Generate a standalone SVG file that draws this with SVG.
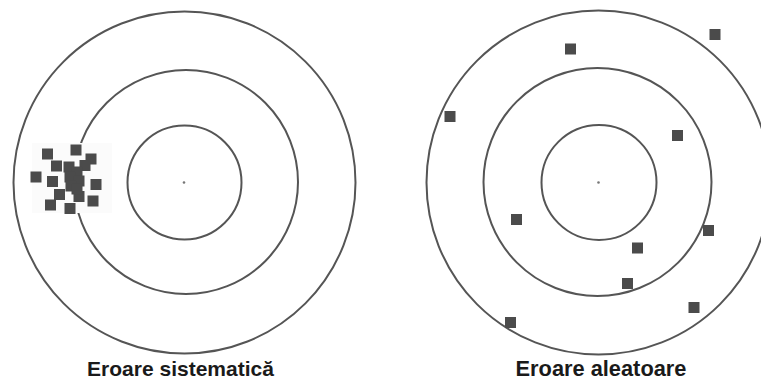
<svg xmlns="http://www.w3.org/2000/svg" width="761" height="380" viewBox="0 0 761 380">
<style>
.ring{fill:none;stroke:#555;stroke-width:2}
.dot{fill:#777}
.sq{fill:#4b4b4b}
.lbl{font-family:"Liberation Sans",Arial,sans-serif;font-weight:bold;font-size:21px;fill:#1a1a1a;text-anchor:middle}
</style>
<defs>
<rect id="s" x="-5.5" y="-5.5" width="11" height="11"/>
</defs>
<rect width="761" height="380" fill="#fff"/>
<g id="target-systematic">
<circle class="ring" cx="184.5" cy="182.5" r="171"/>
<circle class="ring" cx="186" cy="182" r="112"/>
<circle class="ring" cx="184.5" cy="182.5" r="57"/>
<circle class="dot" cx="184" cy="182.5" r="1.3"/>
<rect x="32" y="143" width="80" height="70" fill="#fbfbfb"/>
<g class="sq">
<use href="#s" x="47.5" y="154"/>
<use href="#s" x="76" y="150"/>
<use href="#s" x="91" y="159"/>
<use href="#s" x="56.5" y="166"/>
<use href="#s" x="85" y="165.5"/>
<use href="#s" x="36" y="177"/>
<use href="#s" x="52.5" y="181.5"/>
<use href="#s" x="96" y="184.5"/>
<use href="#s" x="59.5" y="194.5"/>
<use href="#s" x="79" y="196.5"/>
<use href="#s" x="93" y="201"/>
<use href="#s" x="50.5" y="205"/>
<use href="#s" x="70" y="208.5"/>
<use href="#s" x="69" y="167"/>
<use href="#s" x="77" y="172"/>
<use href="#s" x="70" y="177"/>
<use href="#s" x="79" y="181"/>
<use href="#s" x="71" y="186"/>
<use href="#s" x="77" y="189"/>
</g>
<text class="lbl" x="180.5" y="376">Eroare sistematică</text>
</g>
<g id="target-random">
<circle class="ring" cx="598.5" cy="182.5" r="172"/>
<circle class="ring" cx="597.5" cy="182" r="114"/>
<circle class="ring" cx="599" cy="182.5" r="57.5"/>
<circle class="dot" cx="598.5" cy="182.5" r="1.3"/>
<g class="sq">
<use href="#s" x="715" y="34.5"/>
<use href="#s" x="570.5" y="49"/>
<use href="#s" x="450" y="116.5"/>
<use href="#s" x="677.5" y="135.5"/>
<use href="#s" x="516.5" y="219.5"/>
<use href="#s" x="708.5" y="230.5"/>
<use href="#s" x="637.5" y="248"/>
<use href="#s" x="627.5" y="283.5"/>
<use href="#s" x="694" y="307.5"/>
<use href="#s" x="510.5" y="322.5"/>
</g>
<text class="lbl" x="601" y="376" style="font-size:21.8px">Eroare aleatoare</text>
</g>
<g id="connectors"/>
</svg>
